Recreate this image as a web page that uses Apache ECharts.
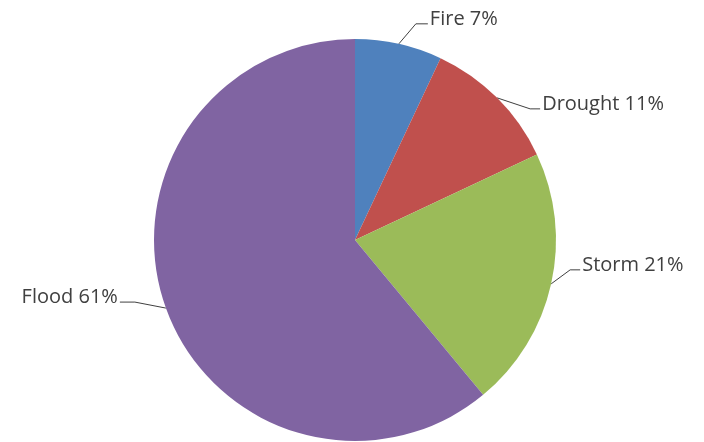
<!DOCTYPE html>
<html>
<head>
<meta charset="utf-8">
<script src="https://cdn.jsdelivr.net/npm/echarts@6/dist/echarts.min.js"></script>
<style>
  html, body { margin: 0; padding: 0; background: #fff; }
  #chart { width: 704px; height: 442px; }
</style>
</head>
<body>
<div id="chart"></div>
<script>
// Share of events by type (percent)
const categories = ['Fire', 'Drought', 'Storm', 'Flood'];
const values = [7, 11, 21, 61];
const colors = ['#4F81BD', '#C0504D', '#9BBB59', '#8064A2'];

// Leader line shape per slice: elbow offset from the slice edge, then horizontal run
const elbowOffsets = [[17, -20], [33, 11], [19, -14], [-31, -6]];
const runLengths = [12, 10, 10, -15];

const chart = echarts.init(document.getElementById('chart'), null, { renderer: 'canvas' });

const data = categories.map((name, i) => ({
  name: name,
  value: values[i],
  itemStyle: { color: colors[i] }
}));

chart.setOption({
  animation: false,
  backgroundColor: '#ffffff',
  series: [{
    type: 'pie',
    center: [355, 240],
    radius: 201,
    startAngle: 90,
    clockwise: true,
    data: data,
    itemStyle: { borderWidth: 0 },
    label: {
      show: true,
      position: 'outside',
      formatter: p => p.name + ' ' + p.value + '%',
      fontFamily: '"Open Sans", Lato, sans-serif',
      fontSize: 20,
      color: '#404040'
    },
    labelLine: {
      show: true,
      length: 15,
      length2: 10,
      lineStyle: { color: '#404040', width: 1 }
    },
    labelLayout: function (params) {
      const i = params.dataIndex;
      const pts = params.labelLinePoints;
      if (!pts) return {};
      const p0 = pts[0];
      const elbow = [p0[0] + elbowOffsets[i][0], p0[1] + elbowOffsets[i][1]];
      const end = [elbow[0] + runLengths[i], elbow[1]];
      const right = runLengths[i] >= 0;
      return {
        x: end[0] + (right ? 2 : -2),
        y: end[1] - 5,
        align: right ? 'left' : 'right',
        verticalAlign: 'middle',
        labelLinePoints: [p0, elbow, end]
      };
    }
  }]
});
</script>
</body>
</html>
